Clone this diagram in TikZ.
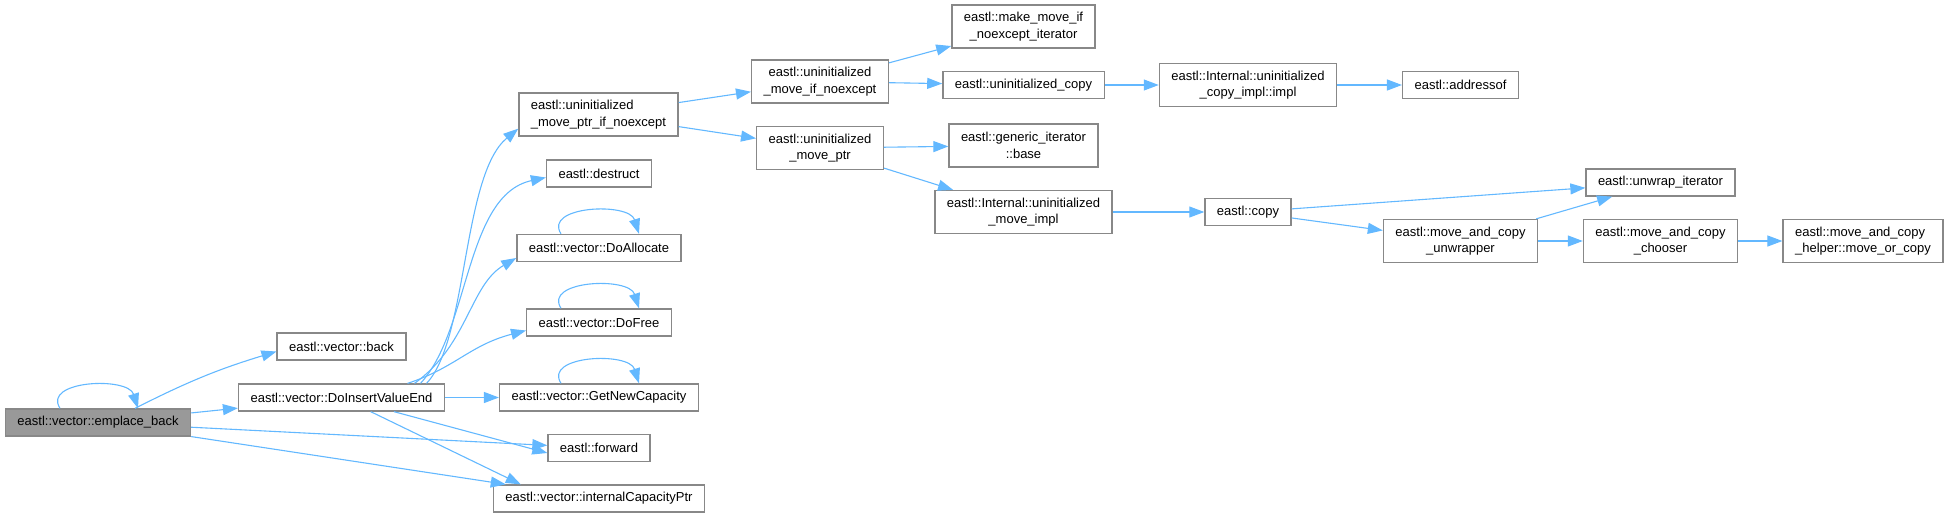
\documentclass[tikz,border=0pt]{standalone}
\usepackage{fontspec}
\setmainfont{Liberation Sans}
\usetikzlibrary{arrows.meta}
\definecolor{edgeblue}{HTML}{63B8FF}
\definecolor{boxgray}{HTML}{888888}
\definecolor{rootgray}{HTML}{999999}

\begin{document}
\begin{tikzpicture}[x=1pt, y=1pt,
  fn/.style={draw=boxgray, line width=1.3pt, fill=white, inner xsep=12pt,
    inner ysep=0pt, minimum height=27pt, font=\fontsize{13}{16.5}\selectfont},
  fn2/.style={fn, minimum height=43pt, align=center},
  root/.style={fn, fill=rootgray},
  call/.style={draw=edgeblue, line width=1.1pt, -{Triangle[length=15pt,width=11pt]}}]
  \useasboundingbox (0,0) rectangle (1947,-517);

  % 第一、二列
  \node[root] (emplace) at (98,-422.5) {eastl::vector::emplace\_back};
  \node[fn] (back) at (341.5,-346.5) {eastl::vector::back};
  \node[fn] (doinsert) at (341.5,-397.5) {eastl::vector::DoInsertValueEnd};

  % 第三列
  \node[fn2, align=left] (ptrnoexcept) at (598.5,-114.5) {eastl::uninitialized\\\_move\_ptr\_if\_noexcept};
  \node[fn] (destruct) at (599,-173.5) {eastl::destruct};
  \node[fn] (doalloc) at (599,-248) {eastl::vector::DoAllocate};
  \node[fn] (dofree) at (599,-322.5) {eastl::vector::DoFree};
  \node[fn] (newcap) at (599,-397.5) {eastl::vector::GetNewCapacity};
  \node[fn] (forward) at (599,-448) {eastl::forward};
  \node[fn] (capptr) at (599,-498.5) {eastl::vector::internalCapacityPtr};

  % 第四、五列
  \node[fn2] (movenoexcept) at (820,-81.5) {eastl::uninitialized\\\_move\_if\_noexcept};
  \node[fn2] (moveptr) at (820,-148) {eastl::uninitialized\\\_move\_ptr};
  \node[fn2] (makeiter) at (1023.5,-26.5) {eastl::make\_move\_if\\\_noexcept\_iterator};
  \node[fn] (unicopy) at (1023.5,-85) {eastl::uninitialized\_copy};
  \node[fn2] (genbase) at (1023.5,-145.5) {eastl::generic\_iterator\\::base};
  \node[fn2] (moveimpl) at (1023.5,-212) {eastl::Internal::uninitialized\\\_move\_impl};

  % 右侧
  \node[fn2] (copyimpl) at (1248,-85) {eastl::Internal::uninitialized\\\_copy\_impl::impl};
  \node[fn] (copy) at (1248,-212) {eastl::copy};
  \node[fn] (addressof) at (1460.5,-85) {eastl::addressof};
  \node[fn] (unwrapiter) at (1660.5,-182.5) {eastl::unwrap\_iterator};
  \node[fn2] (unwrapper) at (1460.5,-241) {eastl::move\_and\_copy\\\_unwrapper};
  \node[fn2] (chooser) at (1660.5,-241) {eastl::move\_and\_copy\\\_chooser};
  \node[fn2, align=left] (moveorcopy) at (1863,-241) {eastl::move\_and\_copy\\\_helper::move\_or\_copy};

  % 自调用
  \foreach \n in {emplace,doalloc,dofree,newcap} {
    \draw[call] ([xshift=-38pt]\n.north) .. controls +(-18,28) and +(-10,32) .. ([xshift=40pt]\n.north);
  }

  % 调用关系
  \draw[call] ([xshift=37pt]emplace.north) to[bend left=5] ([yshift=-5pt]back.west);
  \draw[call] (emplace) -- (doinsert);
  \draw[call] (emplace) -- (forward);
  \draw[call] (emplace) -- (capptr);

  \draw[call] ([xshift=85pt]doinsert.north) .. controls (468,-340) and (462,-175) .. ([yshift=8pt]ptrnoexcept.south west);
  \draw[call] ([xshift=79pt]doinsert.north) .. controls (470,-330) and (465,-195) .. ([yshift=-4pt]destruct.west);
  \draw[call] ([xshift=73pt]doinsert.north) .. controls (468,-345) and (470,-285) .. ([yshift=-10pt]doalloc.west);
  \draw[call] ([xshift=66pt]doinsert.north) .. controls (455,-368) and (470,-345) .. ([yshift=-8pt]dofree.west);
  \draw[call] (doinsert) -- (newcap);
  \draw[call] (doinsert) -- ([yshift=-5pt]forward.west);
  \draw[call] (doinsert) -- ([xshift=28pt]capptr.north west);

  \draw[call] (ptrnoexcept) -- (movenoexcept);
  \draw[call] (ptrnoexcept) -- (moveptr);
  \draw[call] (movenoexcept) -- (makeiter);
  \draw[call] (movenoexcept) -- (unicopy);
  \draw[call] (unicopy) -- (copyimpl);
  \draw[call] (copyimpl) -- (addressof);
  \draw[call] (moveptr) -- (genbase);
  \draw[call] (moveptr) -- (moveimpl);
  \draw[call] (moveimpl) -- (copy);
  \draw[call] (copy) -- (unwrapiter);
  \draw[call] (copy) -- (unwrapper);
  \draw[call] (unwrapper) -- (unwrapiter);
  \draw[call] (unwrapper) -- (chooser);
  \draw[call] (chooser) -- (moveorcopy);
\end{tikzpicture}
\end{document}
